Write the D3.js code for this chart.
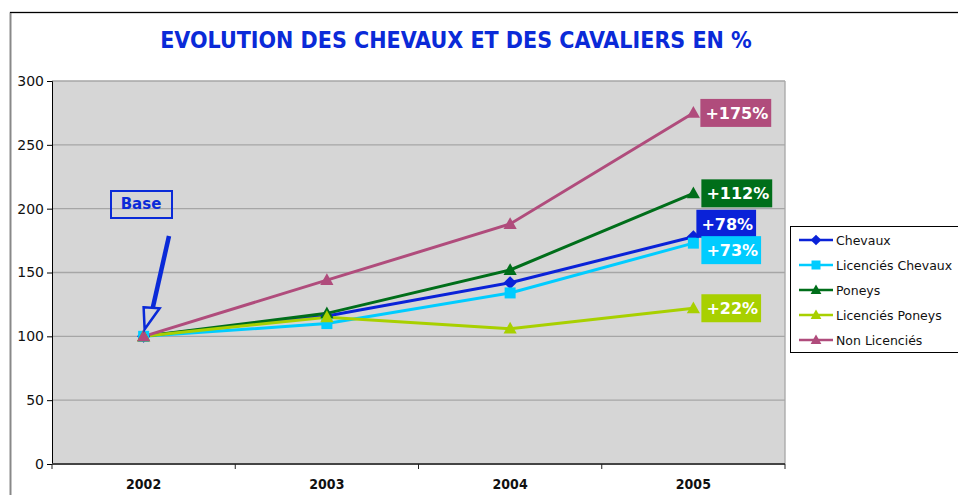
<!DOCTYPE html>
<html>
<head>
<meta charset="utf-8">
<script src="https://cdn.jsdelivr.net/npm/d3@7"></script>
<style>
  body { margin: 0; background: #fff; }
  svg { display: block; font-family: "DejaVu Sans", Verdana, sans-serif; }
</style>
</head>
<body>
<div id="chart"></div>
<script>
const years = ["2002", "2003", "2004", "2005"];
const yTicks = [0, 50, 100, 150, 200, 250, 300];

const chevaux = [100, 116, 142, 178];
const licChevaux = [100, 110, 134, 173];
const poneys = [100, 118, 152, 212];
const licPoneys = [100, 115, 106, 122];
const nonLic = [100, 144, 188, 275];

const seriesNames = ["Chevaux", "Licenciés Chevaux", "Poneys", "Licenciés Poneys", "Non Licenciés"];
const seriesColors = ["#0a22d8", "#00ccff", "#006e1a", "#a8d000", "#b04c7c"];
const seriesShapes = ["diamond", "square", "triangle", "triangle", "triangle"];
const endLabels = ["+78%", "+73%", "+112%", "+22%", "+175%"];

const allValues = [chevaux, licChevaux, poneys, licPoneys, nonLic];
const series = seriesNames.map((name, i) => ({
    name, color: seriesColors[i], shape: seriesShapes[i], label: endLabels[i],
    values: allValues[i].map((v, j) => ({ year: years[j], v }))
}));

const W = 958, H = 495;
const margin = { top: 81, left: 52, right: 173, bottom: 31 };

const svg = d3.select("#chart").append("svg")
    .attr("width", W).attr("height", H);

// outer frame
svg.append("rect")
    .attr("x", 10.5).attr("y", 12.5)
    .attr("width", 1000).attr("height", 600)
    .attr("fill", "none").attr("stroke", "#000").attr("stroke-width", 1.3);
svg.append("line")
    .attr("x1", 10.5).attr("x2", 10.5).attr("y1", 13).attr("y2", H)
    .attr("stroke", "#888").attr("stroke-width", 1.5);

svg.append("text")
    .attr("x", 456).attr("y", 48)
    .attr("text-anchor", "middle")
    .attr("font-family", "'DejaVu Sans Condensed', 'DejaVu Sans', sans-serif")
    .attr("font-weight", "bold")
    .attr("font-size", 23)
    .attr("fill", "#0a2ad8")
    .text("EVOLUTION DES CHEVAUX ET DES CAVALIERS EN %");

const x0 = margin.left, x1 = 785, y0 = 464, y1 = margin.top;

const x = d3.scaleBand().domain(years).range([x0, x1]);
const y = d3.scaleLinear().domain([0, 300]).range([y0, y1]);
const cx = d => x(d) + x.bandwidth() / 2;

svg.append("rect")
    .attr("x", x0).attr("y", y1)
    .attr("width", x1 - x0).attr("height", y0 - y1)
    .attr("fill", "#d6d6d6");

svg.append("g")
    .selectAll("line")
    .data(yTicks.filter(t => t > 0))
    .join("line")
    .attr("x1", x0).attr("x2", x1)
    .attr("y1", d => y(d)).attr("y2", d => y(d))
    .attr("stroke", "#a6a6a6").attr("stroke-width", 1.3);

svg.append("line")
    .attr("x1", x1).attr("x2", x1).attr("y1", y1).attr("y2", y0)
    .attr("stroke", "#a6a6a6").attr("stroke-width", 1.3);

// y axis
const yAxis = svg.append("g")
    .attr("transform", `translate(${x0},0)`)
    .call(d3.axisLeft(y).tickValues(yTicks).tickSize(5).tickPadding(3));
yAxis.select(".domain").attr("stroke", "#000");
yAxis.selectAll("text").attr("font-size", 14).attr("fill", "#111")
    .attr("font-family", "'DejaVu Sans', sans-serif");

// x axis
const xBoundaries = [x0].concat(years.map(d => x(d) + x.bandwidth()));
svg.append("line")
    .attr("x1", x0).attr("x2", x1).attr("y1", y0).attr("y2", y0)
    .attr("stroke", "#444").attr("stroke-width", 2.2);
svg.append("g").selectAll("line")
    .data(xBoundaries).join("line")
    .attr("x1", d => d).attr("x2", d => d)
    .attr("y1", y0).attr("y2", y0 + 5)
    .attr("stroke", "#222");
svg.append("g").selectAll("text")
    .data(years).join("text")
    .attr("x", d => cx(d)).attr("y", y0 + 25)
    .attr("text-anchor", "middle")
    .attr("font-family", "'DejaVu Sans Condensed', 'DejaVu Sans', sans-serif")
    .attr("font-weight", "bold").attr("font-size", 14)
    .attr("fill", "#111")
    .text(d => d);

function marker(sel, shape, size) {
    if (shape === "diamond") {
        sel.attr("d", d3.symbol(d3.symbolDiamond2, size * size * 0.9)());
    } else if (shape === "square") {
        sel.attr("d", d3.symbol(d3.symbolSquare, size * size)());
    } else {
        sel.attr("d", `M0,${-size * 0.62}L${size * 0.6},${size * 0.45}L${-size * 0.6},${size * 0.45}Z`);
    }
}

const line = d3.line().x(d => cx(d.year)).y(d => y(d.v));

series.forEach(s => {
    svg.append("path")
        .datum(s.values)
        .attr("d", line)
        .attr("fill", "none")
        .attr("stroke", s.color)
        .attr("stroke-width", 3);
});
series.forEach(s => {
    svg.append("g").selectAll("path")
        .data(s.values).join("path")
        .attr("transform", d => `translate(${cx(d.year)},${y(d.v)})`)
        .attr("fill", s.color)
        .call(marker, s.shape, 11);
});

// end labels
const labelOffsets = { "+175%": [7, 0], "+112%": [8, 0], "+78%": [3, -13], "+73%": [8, 7], "+22%": [8, 0] };
series.forEach(s => {
    const last = s.values[s.values.length - 1];
    const [dx, dy] = labelOffsets[s.label];
    const g = svg.append("g")
        .attr("transform", `translate(${cx(last.year) + dx},${y(last.v) + dy})`);
    const t = g.append("text")
        .attr("x", 5).attr("y", 6)
        .attr("font-weight", "bold").attr("font-size", 16)
        .attr("fill", "#fff")
        .text(s.label);
    const w = t.node().getComputedTextLength();
    g.insert("rect", "text")
        .attr("x", 0).attr("y", -14)
        .attr("width", w + 8).attr("height", 28)
        .attr("fill", s.color);
});

// Base annotation
const blue = "#0a2ad8";
const base = svg.append("g");
base.append("rect")
    .attr("x", 111).attr("y", 191)
    .attr("width", 61).attr("height", 27)
    .attr("fill", "none").attr("stroke", blue).attr("stroke-width", 2);
base.append("text")
    .attr("x", 141).attr("y", 209)
    .attr("text-anchor", "middle")
    .attr("font-weight", "bold").attr("font-size", 15)
    .attr("fill", blue)
    .text("Base");
const tipX = cx(years[0]) + 1, tipY = y(100) - 7;
base.append("line")
    .attr("x1", 169).attr("y1", 236).attr("x2", 152.5).attr("y2", 309)
    .attr("stroke", blue).attr("stroke-width", 4.5);
base.append("path")
    .attr("d", `M${tipX - 1},${tipY - 22}L${tipX + 15},${tipY - 21}L${tipX},${tipY}Z`)
    .attr("fill", "#d6d6d6").attr("stroke", blue).attr("stroke-width", 2.5)
    .attr("stroke-linejoin", "miter");

// legend
const lg = svg.append("g").attr("transform", "translate(790,226)");
lg.append("rect")
    .attr("x", 0.5).attr("y", 0.5).attr("width", 200).attr("height", 126)
    .attr("fill", "#fff").attr("stroke", "#000").attr("stroke-width", 1);
series.forEach((s, i) => {
    const yy = 14 + i * 25;
    lg.append("line")
        .attr("x1", 9).attr("x2", 43).attr("y1", yy).attr("y2", yy)
        .attr("stroke", s.color).attr("stroke-width", 2.5);
    lg.append("path")
        .attr("transform", `translate(26,${yy})`)
        .attr("fill", s.color)
        .call(marker, s.shape, 9);
    lg.append("text")
        .attr("x", 46).attr("y", yy + 5)
        .attr("font-size", 12.5).attr("fill", "#111")
        .text(s.name);
});
</script>
</body>
</html>
